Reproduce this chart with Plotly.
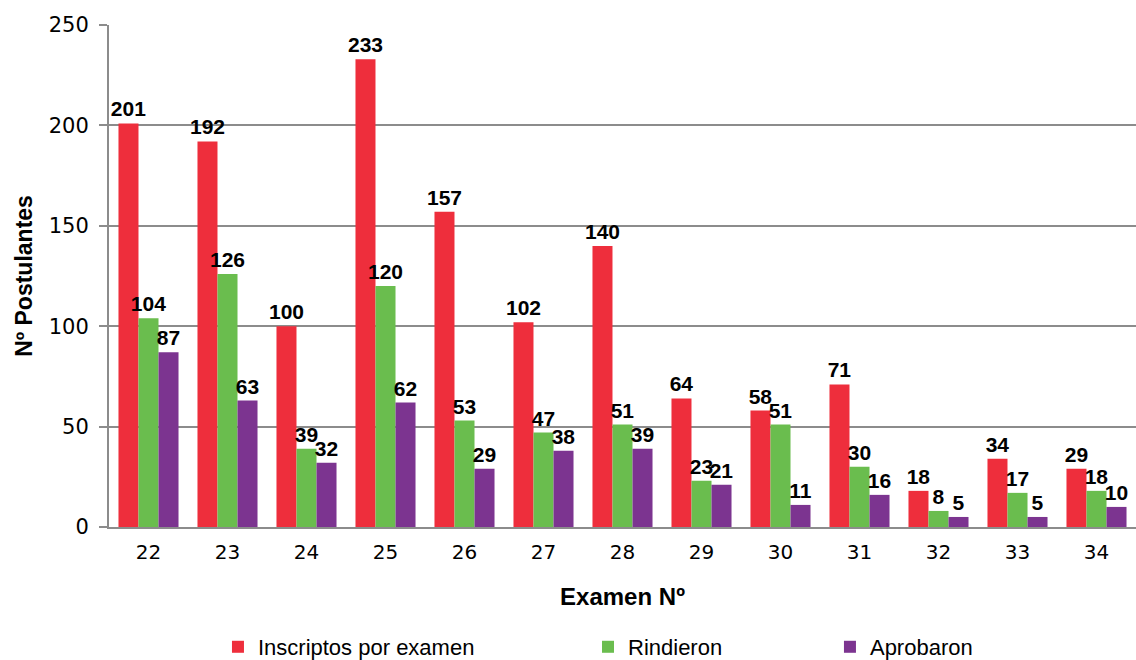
import plotly.graph_objects as go

examenes = ["22", "23", "24", "25", "26", "27", "28", "29", "30", "31", "32", "33", "34"]
inscriptos = [201, 192, 100, 233, 157, 102, 140, 64, 58, 71, 18, 34, 29]
rindieron = [104, 126, 39, 120, 53, 47, 51, 23, 51, 30, 8, 17, 18]
aprobaron = [87, 63, 32, 62, 29, 38, 39, 21, 11, 16, 5, 5, 10]

series = [
    ("Inscriptos por examen", inscriptos, "#EE2E3C", "legend"),
    ("Rindieron", rindieron, "#6ABD4E", "legend2"),
    ("Aprobaron", aprobaron, "#7C3490", "legend3"),
]

fig = go.Figure()
for name, vals, color, leg in series:
    fig.add_trace(go.Bar(
        x=examenes, y=vals, name=name, legend=leg,
        marker=dict(color=color, line=dict(width=0)),
        text=vals, textposition="outside", cliponaxis=False,
        constraintext="none",
        textfont=dict(family="Liberation Sans", size=21, color="black", weight="bold"),
    ))

# Excel-style legend: each entry placed on its own
legend_style = dict(
    orientation="h", xanchor="left", y=-0.239, yanchor="middle",
    font=dict(family="Liberation Sans", size=22, color="black"),
    itemwidth=30, bgcolor="rgba(0,0,0,0)",
)

fig.update_layout(
    width=1136, height=660,
    margin=dict(l=109, r=0, t=25, b=133, autoexpand=False),
    paper_bgcolor="white", plot_bgcolor="white",
    barmode="group", bargap=0.24, bargroupgap=0,
    font=dict(family="DejaVu Sans", color="black"),
    showlegend=True,
    legend=dict(x=0.1061, **legend_style),
    legend2=dict(x=0.4664, **legend_style),
    legend3=dict(x=0.7020, **legend_style),
)

fig.update_xaxes(
    type="category", automargin=False,
    showline=True, linecolor="#8C8C8C", linewidth=2,
    ticks="", ticklabelstandoff=6,
    tickfont=dict(family="DejaVu Sans", size=20, color="black"),
    title=dict(text="Examen Nº", standoff=25,
               font=dict(family="Liberation Sans", size=24, color="black", weight="bold")),
)
fig.update_yaxes(
    range=[0, 250], dtick=50, automargin=False,
    showgrid=True, gridcolor="#8C8C8C", gridwidth=1.5,
    showline=True, linecolor="#8C8C8C", linewidth=2,
    ticks="outside", ticklen=8, tickcolor="#8C8C8C", tickwidth=1.5,
    ticklabelstandoff=6,
    tickfont=dict(family="DejaVu Sans", size=21, color="black"),
    zeroline=False,
    title=dict(text="Nº Postulantes", standoff=10,
               font=dict(family="Liberation Sans", size=23, color="black", weight="bold")),
)

fig.write_html("out.html", config={"displayModeBar": False},
               post_script="document.body.style.margin='0px';")
